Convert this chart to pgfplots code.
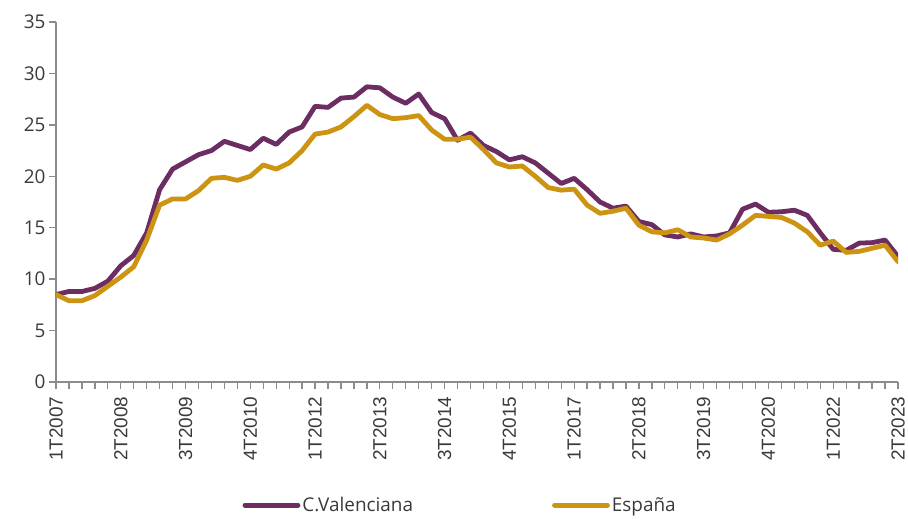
\documentclass[border=0pt]{standalone}
\usepackage{pgfplots}
\pgfplotsset{compat=1.18}
\usepackage{pgfplotstable}
\usepackage{fontspec}
\setmainfont{Open Sans}
\newfontfamily\arialf{Liberation Sans}
\definecolor{cv}{HTML}{6B2D62}
\definecolor{es}{HTML}{CC9412}
\definecolor{axg}{HTML}{8C8C8C}
\definecolor{txt}{HTML}{3A3A3A}
\pgfplotstableread{
i P Y
0 8.5 8.5
1 8.8 7.9
2 8.8 7.9
3 9.1 8.4
4 9.8 9.3
5 11.3 10.2
6 12.3 11.2
7 14.5 13.8
8 18.7 17.2
9 20.7 17.8
10 21.4 17.8
11 22.1 18.6
12 22.5 19.8
13 23.4 19.9
14 23.0 19.6
15 22.6 20.0
16 23.7 21.1
17 23.1 20.7
18 24.3 21.3
19 24.8 22.5
20 26.8 24.1
21 26.7 24.3
22 27.6 24.8
23 27.7 25.8
24 28.7 26.9
25 28.6 26.0
26 27.7 25.6
27 27.1 25.7
28 28.0 25.9
29 26.2 24.5
30 25.6 23.6
31 23.5 23.6
32 24.2 23.8
33 23.0 22.6
34 22.4 21.3
35 21.6 20.9
36 21.9 21.0
37 21.3 20.0
38 20.3 18.9
39 19.3 18.65
40 19.8 18.75
41 18.7 17.2
42 17.5 16.4
43 16.9 16.6
44 17.1 16.9
45 15.6 15.25
46 15.3 14.6
47 14.3 14.5
48 14.1 14.8
49 14.4 14.1
50 14.1 14.0
51 14.2 13.8
52 14.5 14.4
53 16.8 15.25
54 17.3 16.2
55 16.5 16.1
56 16.55 16.0
57 16.7 15.45
58 16.2 14.6
59 14.5 13.3
60 12.9 13.7
61 12.8 12.6
62 13.5 12.7
63 13.55 13.0
64 13.8 13.3
65 12.2 11.7
}\datatable
\begin{document}
\begin{tikzpicture}
\begin{axis}[name=ax, scale only axis, width=842bp, height=360bp,
  xmin=0, xmax=65, ymin=0, ymax=35,
  axis x line=bottom, axis y line=left,
  axis line style={-, axg, line width=1.3bp},
  xtick={0,5,...,65},
  xticklabels={1T2007,2T2008,3T2009,4T2010,1T2012,2T2013,3T2014,4T2015,1T2017,2T2018,3T2019,4T2020,1T2022,2T2023},
  minor xtick={0,1,...,65},
  ytick={0,5,...,35},
  tick align=outside, major tick length=7bp, minor tick length=7bp,
  every tick/.append style={axg, line width=1.3bp},
  xticklabel shift=4bp,
  xticklabel style={rotate=90, anchor=east, font=\arialf\fontsize{19}{22}\selectfont, text=txt},
  yticklabel style={font=\fontsize{19}{22}\selectfont, text=txt},
  /pgf/number format/assume math mode=true,
  legend columns=2,
  legend cell align=left,
  legend image code/.code={\draw[#1, line cap=round] (0bp,0bp) -- (53bp,0bp);},
  legend style={at={(0.48,-0.342)}, anchor=center, draw=none, fill=none,
    font=\fontsize{19}{22}\selectfont, text=txt,
    /tikz/every even column/.append style={column sep=137bp}},
]
\addplot[cv, line width=4.8bp, line join=round, line cap=round] table[x=i, y=P] {\datatable};
\addlegendentry{C.Valenciana}
\addplot[es, line width=4.8bp, line join=round, line cap=round] table[x=i, y=Y] {\datatable};
\addlegendentry{España}
\end{axis}
\pgfresetboundingbox
\path[use as bounding box] ([shift={(-56bp,-137bp)}]ax.south west) rectangle ([shift={(852bp,382bp)}]ax.south west);
\end{tikzpicture}
\end{document}
